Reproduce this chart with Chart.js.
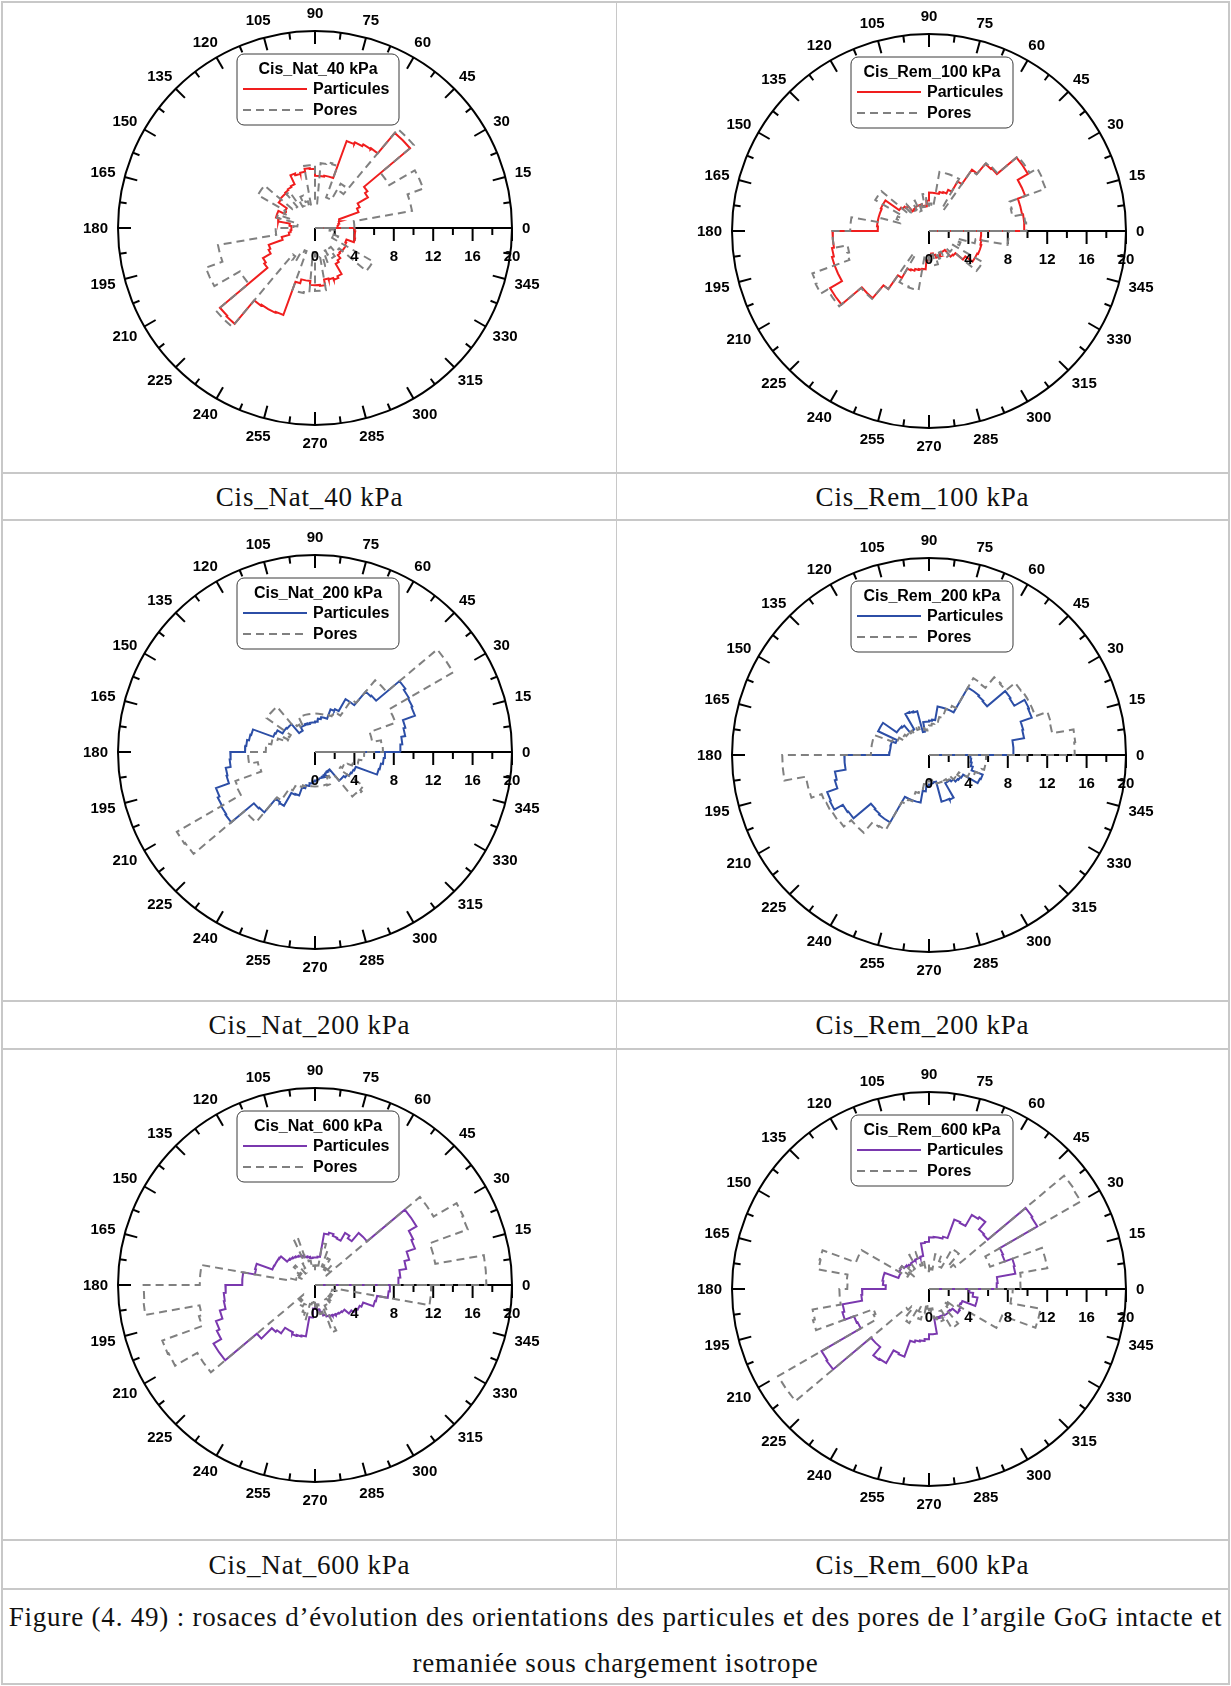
<!DOCTYPE html>
<html lang="fr">
<head>
<meta charset="UTF-8">
<title>Rosaces d'orientation - particules et pores</title>
<script src="https://cdn.jsdelivr.net/npm/chart.js@4.4.1/dist/chart.umd.min.js"></script>
<style>
    body {
        margin: 0;
        background: #fff;
    }
    .page {
        position: relative;
        width: 1231px;
        height: 1686px;
        overflow: hidden;
    }
    .rule {
        position: absolute;
        background: #c8c8c8;
    }
    .panel {
        position: absolute;
    }
    .cap {
        position: absolute;
        text-align: center;
        font-family: 'Liberation Serif', 'Times New Roman', serif;
        font-size: 27px;
        letter-spacing: 0.8px;
        color: #111;
        white-space: nowrap;
    }
</style>
</head>
<body>
<div class="page">
    <!-- table rules -->
    <div class="rule" style="left:1px; top:1px; width:1229px; height:2px"></div>
    <div class="rule" style="left:1px; top:472px; width:1229px; height:2px"></div>
    <div class="rule" style="left:1px; top:519px; width:1229px; height:2px"></div>
    <div class="rule" style="left:1px; top:1000px; width:1229px; height:2px"></div>
    <div class="rule" style="left:1px; top:1048px; width:1229px; height:2px"></div>
    <div class="rule" style="left:1px; top:1539px; width:1229px; height:2px"></div>
    <div class="rule" style="left:1px; top:1588px; width:1229px; height:2px"></div>
    <div class="rule" style="left:1px; top:1683px; width:1229px; height:2px"></div>
    <div class="rule" style="left:1px; top:1px; width:2px; height:1684px"></div>
    <div class="rule" style="left:1228px; top:1px; width:2px; height:1684px"></div>
    <div class="rule" style="left:616px; top:1px; width:1px; height:1589px"></div>

    <canvas id="c1" class="panel" width="590" height="470" style="left:20px; top:0px"></canvas>
    <canvas id="c2" class="panel" width="590" height="470" style="left:634px; top:3px"></canvas>
    <canvas id="c3" class="panel" width="590" height="470" style="left:20px; top:524px"></canvas>
    <canvas id="c4" class="panel" width="590" height="470" style="left:634px; top:527px"></canvas>
    <canvas id="c5" class="panel" width="590" height="470" style="left:20px; top:1057px"></canvas>
    <canvas id="c6" class="panel" width="590" height="470" style="left:634px; top:1061px"></canvas>

    <div class="cap" style="left:3px; width:613px; top:475px; line-height:45px">Cis_Nat_40 kPa</div>
    <div class="cap" style="left:617px; width:611px; top:475px; line-height:45px">Cis_Rem_100 kPa</div>
    <div class="cap" style="left:3px; width:613px; top:1003px; line-height:45px">Cis_Nat_200 kPa</div>
    <div class="cap" style="left:617px; width:611px; top:1003px; line-height:45px">Cis_Rem_200 kPa</div>
    <div class="cap" style="left:3px; width:613px; top:1542px; line-height:46px">Cis_Nat_600 kPa</div>
    <div class="cap" style="left:617px; width:611px; top:1542px; line-height:46px">Cis_Rem_600 kPa</div>
    <div class="cap" style="left:3px; width:1225px; top:1594px; line-height:46px">
        Figure (4. 49) : rosaces d’évolution des orientations des particules et des pores de l’argile GoG intacte et<br>remaniée sous chargement isotrope
    </div>
</div>

<script>
    // bins of 5 degrees, counter-clockwise from 0 (one value per bin, 0..355)
    const binWidth = 5;
    const angleLabels = [0, 15, 30, 45, 60, 75, 90, 105, 120, 135, 150, 165,
                         180, 195, 210, 225, 240, 255, 270, 285, 300, 315, 330, 345];
    const radialTicks = [0, 4, 8, 12, 16, 20];
    const radialMax = 20;

    // Cis_Nat_40 kPa
    const natPart40 = [
        2.3, 2.4, 2.5, 2.6, 4.7, 5.0, 6.2, 6.5, 12.6, 12.6, 9.9, 9.8,
        9.6, 9.4, 5.4, 5.4, 5.3, 5.3, 6.0, 6.1, 5.8, 5.7, 5.9, 4.9,
        4.8, 4.7, 4.6, 4.6, 4.5, 3.5, 3.4, 4.1, 4.1, 3.8, 2.6, 2.4,
        2.4, 2.5, 2.7, 3.5, 5.0, 5.2, 6.1, 6.3, 12.6, 12.7, 9.6, 9.5,
        9.5, 9.4, 5.8, 5.4, 5.4, 5.8, 5.8, 5.9, 5.3, 5.4, 5.6, 5.4,
        4.2, 4.0, 3.6, 3.5, 3.6, 3.6, 3.5, 3.4, 4.2, 4.1, 4.1, 4.0];
    const natPores40 = [
        4.0, 4.0, 10.0, 10.0, 11.7, 11.7, 8.7, 8.7, 13.1, 13.1, 4.5, 5.2,
        3.3, 3.3, 6.7, 6.8, 6.6, 2.5, 6.4, 6.4, 2.2, 2.8, 3.5, 2.5,
        3.2, 4.5, 2.8, 3.0, 6.7, 6.7, 3.5, 2.8, 4.0, 2.0, 1.8, 2.2,
        4.0, 4.0, 10.0, 10.0, 11.8, 11.8, 8.8, 8.8, 13.1, 13.1, 3.5, 4.0,
        3.0, 2.5, 6.7, 6.7, 6.6, 2.5, 6.4, 6.4, 3.0, 4.0, 2.5, 3.0,
        3.5, 2.5, 3.0, 3.2, 6.8, 6.8, 2.0, 2.5, 2.0, 1.8, 1.5, 2.0];

    // Cis_Rem_100 kPa
    const remPart100 = [
        9.7, 9.7, 9.6, 9.6, 10.4, 10.4, 11.6, 11.6, 9.0, 8.9, 7.6, 5.8,
        4.6, 4.2, 4.1, 3.9, 3.9, 3.9, 3.1, 2.5, 2.6, 2.8, 2.8, 2.8,
        2.7, 2.6, 3.3, 3.5, 3.7, 5.4, 5.4, 5.3, 5.3, 5.3, 5.3, 5.2,
        9.8, 9.8, 10.0, 10.2, 10.2, 10.2, 11.6, 11.6, 8.9, 8.9, 7.2, 5.5,
        4.4, 4.3, 4.1, 4.0, 3.9, 3.0, 2.5, 2.3, 2.5, 2.8, 2.7, 2.5,
        2.5, 2.5, 3.4, 3.5, 4.5, 5.4, 5.4, 5.5, 5.5, 5.4, 5.3, 5.3];
    const remPores100 = [
        9.9, 9.8, 8.6, 8.7, 12.6, 12.7, 11.8, 11.8, 9.1, 9.0, 7.5, 2.6,
        6.1, 6.1, 6.1, 6.1, 2.5, 2.8, 2.4, 3.8, 2.5, 3.0, 2.2, 3.4,
        2.5, 2.8, 3.6, 2.6, 6.3, 6.3, 3.2, 3.5, 3.0, 5.0, 8.0, 8.0,
        9.8, 9.8, 8.4, 8.6, 12.6, 12.7, 11.9, 11.9, 9.0, 9.0, 7.2, 2.8,
        6.0, 6.0, 6.1, 6.1, 2.6, 2.5, 3.0, 2.4, 3.5, 2.6, 3.0, 2.4,
        2.8, 3.2, 2.5, 3.0, 6.3, 6.3, 2.8, 3.4, 3.0, 4.8, 8.1, 8.1];

    // Cis_Nat_200 kPa
    const natPart200 = [
        8.7, 8.9, 9.3, 9.5, 10.8, 10.9, 11.0, 11.2, 8.1, 8.0, 6.2, 6.2,
        4.8, 4.6, 3.6, 3.6, 3.4, 3.1, 3.0, 3.0, 2.9, 3.0, 2.9, 2.9,
        2.5, 2.5, 3.7, 3.7, 3.8, 3.8, 4.4, 4.5, 6.7, 6.8, 7.0, 7.1,
        8.6, 8.7, 9.2, 9.3, 10.7, 10.9, 11.0, 11.1, 8.1, 8.0, 6.2, 6.3,
        4.8, 4.7, 3.8, 3.5, 3.2, 3.0, 2.9, 2.8, 2.7, 2.6, 2.5, 2.4,
        2.3, 2.3, 3.8, 3.8, 4.0, 4.2, 4.3, 4.4, 6.7, 6.8, 7.0, 7.1];
    const natPores200 = [
        6.9, 6.8, 5.9, 5.9, 8.7, 8.7, 16.2, 16.2, 9.5, 9.5, 6.5, 4.5,
        4.2, 4.0, 3.9, 3.9, 3.9, 3.9, 3.9, 3.9, 3.9, 3.9, 3.9, 2.8,
        3.2, 3.5, 6.0, 6.0, 6.0, 3.0, 3.5, 3.0, 4.0, 4.5, 5.0, 5.0,
        6.8, 6.8, 5.9, 5.8, 8.6, 8.7, 16.2, 16.1, 9.3, 9.3, 6.0, 4.5,
        4.0, 3.8, 3.6, 3.5, 3.5, 3.5, 3.5, 3.5, 3.5, 3.5, 3.6, 2.8,
        3.0, 3.2, 5.9, 6.2, 6.0, 3.0, 3.2, 3.5, 4.0, 4.5, 5.0, 5.0];

    // Cis_Rem_200 kPa
    const remPart200 = [
        8.6, 8.6, 9.8, 9.9, 11.1, 11.2, 10.0, 10.1, 7.7, 7.8, 7.9, 7.9,
        5.0, 5.0, 5.0, 5.0, 3.6, 3.5, 3.4, 3.4, 2.4, 4.6, 4.7, 4.8,
        3.0, 3.0, 3.9, 4.0, 4.0, 5.7, 5.7, 3.6, 4.0, 4.0, 4.0, 4.05,
        8.6, 8.6, 9.7, 9.9, 11.0, 11.1, 10.1, 10.0, 7.7, 7.8, 7.9, 7.9,
        4.9, 4.9, 4.9, 4.9, 3.7, 3.2, 3.0, 2.9, 2.8, 4.9, 4.9, 5.0,
        3.3, 3.3, 3.5, 3.8, 3.9, 4.0, 5.7, 5.8, 4.6, 4.4, 4.3, 4.2];
    const remPores200 = [
        14.8, 14.9, 12.7, 12.8, 11.5, 11.5, 11.5, 11.4, 10.2, 10.3, 8.9, 9.0,
        5.5, 5.0, 4.0, 3.5, 3.2, 3.0, 2.5, 2.6, 2.8, 3.0, 2.8, 3.0,
        2.8, 3.0, 2.7, 3.0, 3.2, 3.0, 3.5, 4.0, 5.9, 5.9, 5.9, 5.9,
        14.9, 14.9, 12.7, 12.7, 11.6, 11.5, 11.4, 11.3, 10.3, 10.3, 8.9, 8.8,
        5.5, 5.0, 4.0, 3.5, 3.0, 2.8, 2.5, 2.6, 2.8, 3.0, 3.0, 3.2,
        3.0, 3.2, 3.0, 3.5, 3.8, 3.5, 4.5, 5.0, 5.5, 5.8, 5.8, 5.8];

    // Cis_Nat_600 kPa
    const natPart600 = [
        8.5, 8.7, 9.4, 9.9, 10.8, 11.0, 11.9, 11.9, 6.9, 6.9, 5.8, 6.1,
        5.2, 5.3, 5.5, 5.3, 2.9, 2.8, 2.8, 2.75, 2.9, 3.0, 3.2, 3.3,
        3.4, 3.5, 3.6, 3.7, 4.5, 4.55, 4.55, 4.6, 6.3, 6.2, 7.4, 7.4,
        9.1, 9.3, 9.4, 10.0, 10.7, 11.0, 11.9, 11.9, 7.7, 6.2, 6.0, 5.3,
        5.3, 5.5, 5.4, 5.3, 3.3, 2.4, 2.0, 2.5, 2.8, 3.2, 3.4, 3.5,
        3.6, 3.7, 3.8, 3.9, 4.5, 4.8, 5.0, 5.2, 6.3, 6.4, 7.5, 7.6];
    const natPores600 = [
        17.4, 17.4, 12.4, 12.4, 16.5, 16.6, 13.9, 13.9, 1.5, 2.0, 2.5, 1.8,
        3.0, 2.0, 3.8, 4.3, 2.0, 1.5, 2.0, 1.8, 2.5, 3.0, 5.1, 2.5,
        2.0, 1.5, 2.2, 2.8, 1.8, 2.3, 1.8, 1.5, 2.0, 2.5, 11.7, 11.7,
        17.4, 17.5, 11.9, 12.2, 16.5, 16.4, 13.8, 13.8, 1.5, 2.2, 2.0, 2.5,
        2.2, 3.0, 3.6, 2.0, 1.5, 1.8, 2.5, 2.0, 3.0, 2.5, 5.1, 2.3,
        2.0, 1.8, 2.5, 2.0, 1.5, 2.0, 1.8, 2.0, 1.8, 2.5, 11.8, 11.8];

    // Cis_Rem_600 kPa
    const remPart600 = [
        6.9, 7.0, 8.9, 9.0, 8.2, 8.3, 12.7, 12.8, 7.8, 7.9, 8.9, 8.7,
        7.4, 7.5, 5.5, 5.3, 5.3, 5.25, 4.8, 4.7, 3.4, 3.3, 3.3, 3.2,
        3.2, 3.1, 3.2, 3.3, 3.6, 3.5, 3.3, 3.3, 4.8, 4.8, 4.7, 4.4,
        6.8, 6.9, 8.9, 9.1, 8.1, 8.0, 12.6, 12.7, 7.7, 7.7, 8.8, 8.7,
        7.2, 7.3, 5.6, 5.4, 5.3, 5.1, 4.6, 4.6, 3.1, 3.0, 3.0, 3.0,
        3.1, 3.1, 3.0, 3.1, 3.8, 3.7, 3.5, 3.6, 5.0, 5.0, 4.5, 4.1];
    const remPores600 = [
        9.3, 9.4, 12.2, 12.2, 6.6, 6.6, 17.8, 17.9, 3.5, 3.0, 4.7, 4.7,
        2.5, 3.0, 3.6, 3.6, 2.0, 2.5, 1.8, 2.2, 3.0, 2.5, 4.0, 4.0,
        3.0, 2.5, 3.0, 2.0, 3.6, 2.5, 7.9, 7.9, 11.5, 11.4, 8.4, 8.3,
        9.1, 9.1, 12.0, 12.2, 6.0, 6.2, 17.7, 17.7, 3.0, 2.5, 3.5, 4.0,
        2.0, 2.5, 3.2, 2.5, 1.5, 2.0, 2.5, 2.0, 3.0, 3.5, 3.5, 2.5,
        4.5, 4.6, 3.0, 2.5, 2.0, 3.0, 7.9, 7.9, 11.5, 11.5, 8.4, 8.5];

    const poreColor = '#808080';
    const labelFont = 'bold 15px "Liberation Sans", Arial, sans-serif';
    const legendFont = 'bold 16px "Liberation Sans", Arial, sans-serif';

    // canvas is 590x470 with the pole at (295, 228); 197 px = 20 units
    const unitPx = 197 / radialMax;
    const xHalf = 295 / unitPx;
    const yTop = 228 / unitPx;
    const yBottom = (470 - 228) / unitPx;

    // stepped outline: each bin is an arc at its radius, joined by radial steps
    function rosePath(vals) {
        const pts = [{ x: 0, y: 0 }];
        vals.forEach((r, i) => {
            const a0 = i * binWidth * Math.PI / 180;
            const a1 = (i + 1) * binWidth * Math.PI / 180;
            pts.push({ x: r * Math.cos(a0), y: r * Math.sin(a0) });
            pts.push({ x: r * Math.cos(a1), y: r * Math.sin(a1) });
        });
        pts.push({ x: 0, y: 0 });
        return pts;
    }

    const roseFrame = {
        id: 'roseFrame',
        beforeDatasetsDraw(chart) {
            const { ctx, scales: { x, y } } = chart;
            const cx = x.getPixelForValue(0), cy = y.getPixelForValue(0);
            const R = x.getPixelForValue(radialMax) - cx;
            ctx.save();
            ctx.strokeStyle = '#000';
            ctx.lineWidth = 2;
            ctx.beginPath();
            ctx.arc(cx, cy, R, 0, Math.PI * 2);
            ctx.stroke();
            // angular ticks every 7.5 deg, pointing inwards
            for (let k = 0; k < 48; k++) {
                const t = k * 7.5 * Math.PI / 180;
                const len = k % 2 === 0 ? 13 : 7;
                ctx.beginPath();
                ctx.moveTo(cx + R * Math.cos(t), cy - R * Math.sin(t));
                ctx.lineTo(cx + (R - len) * Math.cos(t), cy - (R - len) * Math.sin(t));
                ctx.stroke();
            }
            // radial axis along 0 deg
            ctx.beginPath();
            ctx.moveTo(cx, cy);
            ctx.lineTo(cx + R, cy);
            ctx.stroke();
            for (let v = 0; v <= radialMax; v += 2) {
                const px = x.getPixelForValue(v);
                const len = radialTicks.includes(v) ? 13 : 7;
                ctx.beginPath();
                ctx.moveTo(px, cy);
                ctx.lineTo(px, cy + len);
                ctx.stroke();
            }
            ctx.restore();
        },
        afterDatasetsDraw(chart, args, opts) {
            const { ctx, scales: { x, y } } = chart;
            const cx = x.getPixelForValue(0), cy = y.getPixelForValue(0);
            const R = x.getPixelForValue(radialMax) - cx;
            ctx.save();
            ctx.fillStyle = '#000';
            ctx.font = labelFont;
            ctx.textAlign = 'center';
            ctx.textBaseline = 'middle';
            angleLabels.forEach(a => {
                const t = a * Math.PI / 180;
                const txt = String(a);
                const w = ctx.measureText(txt).width;
                const c = Math.cos(t), s = Math.sin(t);
                const px = cx + (R + 10) * c + c * w / 2;
                const py = cy - (R + 10) * s - s * 8;
                ctx.fillText(txt, px, py + 1);
            });
            radialTicks.forEach(v => {
                ctx.fillText(String(v), x.getPixelForValue(v), cy + 29);
            });

            // legend box
            const bx = cx - 78, by = cy - 174, bw = 162, bh = 71;
            ctx.beginPath();
            ctx.roundRect(bx, by, bw, bh, 7);
            ctx.fillStyle = '#fff';
            ctx.fill();
            ctx.strokeStyle = '#3a3a3a';
            ctx.lineWidth = 1;
            ctx.stroke();
            ctx.fillStyle = '#000';
            ctx.font = legendFont;
            ctx.textAlign = 'center';
            ctx.fillText(opts.title, cx + 3, cy - 158);
            ctx.textAlign = 'left';
            ctx.fillText('Particules', cx - 2, cy - 138);
            ctx.fillText('Pores', cx - 2, cy - 117);
            ctx.lineWidth = 2;
            ctx.strokeStyle = opts.color;
            ctx.beginPath();
            ctx.moveTo(cx - 72, cy - 139);
            ctx.lineTo(cx - 8, cy - 139);
            ctx.stroke();
            ctx.strokeStyle = poreColor;
            ctx.setLineDash([8, 5]);
            ctx.beginPath();
            ctx.moveTo(cx - 72, cy - 118);
            ctx.lineTo(cx - 8, cy - 118);
            ctx.stroke();
            ctx.restore();
        }
    };

    function makeRose(id, title, color, part, pores) {
        new Chart(document.getElementById(id), {
            type: 'scatter',
            data: {
                datasets: [{
                    label: 'Pores',
                    data: rosePath(pores),
                    showLine: true,
                    borderColor: poreColor,
                    borderWidth: 2,
                    borderDash: [8, 5],
                    pointRadius: 0,
                    order: 0
                }, {
                    label: 'Particules',
                    data: rosePath(part),
                    showLine: true,
                    borderColor: color,
                    borderWidth: 2,
                    pointRadius: 0,
                    order: 1
                }]
            },
            options: {
                responsive: false,
                animation: false,
                events: [],
                layout: { padding: 0 },
                scales: {
                    x: { type: 'linear', min: -xHalf, max: xHalf, display: false },
                    y: { type: 'linear', min: -yBottom, max: yTop, display: false }
                },
                plugins: {
                    legend: { display: false },
                    tooltip: { enabled: false },
                    roseFrame: { title: title, color: color }
                }
            },
            plugins: [roseFrame]
        });
    }

    makeRose('c1', 'Cis_Nat_40 kPa', '#f01e1e', natPart40, natPores40);
    makeRose('c2', 'Cis_Rem_100 kPa', '#f01e1e', remPart100, remPores100);
    makeRose('c3', 'Cis_Nat_200 kPa', '#2c4ea6', natPart200, natPores200);
    makeRose('c4', 'Cis_Rem_200 kPa', '#2c4ea6', remPart200, remPores200);
    makeRose('c5', 'Cis_Nat_600 kPa', '#7a38ae', natPart600, natPores600);
    makeRose('c6', 'Cis_Rem_600 kPa', '#7a38ae', remPart600, remPores600);
</script>
</body>
</html>
